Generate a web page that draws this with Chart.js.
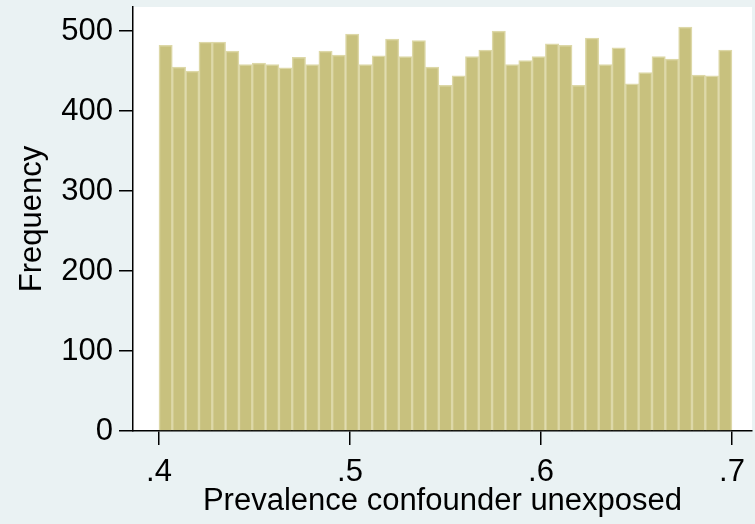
<!DOCTYPE html>
<html>
<head>
<meta charset="utf-8">
<script src="https://cdn.jsdelivr.net/npm/chart.js@4/dist/chart.umd.min.js"></script>
<style>
  html, body { margin: 0; padding: 0; background: #EAF2F3; }
  #wrap { width: 755px; height: 524px; }
</style>
</head>
<body>
<div id="wrap"><canvas id="c" width="755" height="524"></canvas></div>
<script>
// Histogram bins: 43 equal bins from .4 to .7
const binStart = 0.4;
const binEnd = 0.7;
const frequencies = [
  482, 455, 450, 486, 486, 475, 458, 460, 458, 454,
  467, 458, 475, 470, 496, 458, 469, 490, 468, 488,
  455, 432, 444, 468, 476, 500, 458, 463, 468, 484,
  482, 432, 491, 458, 479, 434, 448, 468, 465, 505,
  445, 444, 476
];
const xTicks = [0.4, 0.5, 0.6, 0.7];
const xTickLabels = ['.4', '.5', '.6', '.7'];
const yTicks = [0, 100, 200, 300, 400, 500];
const xTitle = 'Prevalence confounder unexposed';
const yTitle = 'Frequency';

const binWidth = (binEnd - binStart) / frequencies.length;
const points = frequencies.map((v, i) => ({ x: binStart + (i + 0.5) * binWidth, y: v }));

const FONT = "'Liberation Sans', Arial, Helvetica, sans-serif";

const bgPlugin = {
  id: 'bg',
  beforeDraw(chart) {
    const { ctx, chartArea: a } = chart;
    ctx.save();
    ctx.fillStyle = '#EAF2F3';
    ctx.fillRect(0, 0, chart.width, chart.height);
    ctx.fillStyle = '#FFFFFF';
    ctx.fillRect(a.left, a.top, a.right - a.left, a.bottom - a.top);
    ctx.restore();
  }
};

new Chart(document.getElementById('c'), {
  type: 'bar',
  data: {
    datasets: [{
      data: points,
      backgroundColor: '#C8C17E',
      borderColor: '#DDD8A8',
      borderWidth: 1.5,
      borderSkipped: 'bottom',
      barPercentage: 1,
      categoryPercentage: 1
    }]
  },
  options: {
    responsive: false,
    animation: false,
    devicePixelRatio: 1,
    layout: { padding: { top: 7, right: 3, left: 0, bottom: 0 } },
    plugins: { legend: { display: false }, tooltip: { enabled: false } },
    scales: {
      x: {
        type: 'linear',
        min: 0.3864,
        max: 0.7105,
        offset: false,
        afterBuildTicks(s) { s.ticks = xTicks.map(v => ({ value: v })); },
        afterFit(s) { s.height = 93; s.paddingLeft = 0; s.paddingRight = 0; },
        ticks: {
          color: '#000',
          font: { family: FONT, size: 31 },
          padding: 9,
          maxRotation: 0,
          autoSkip: false,
          callback(v) { const i = xTicks.indexOf(v); return i >= 0 ? xTickLabels[i] : ''; }
        },
        grid: { offset: false, drawOnChartArea: false, drawTicks: true, tickLength: 14, color: '#000', lineWidth: 1.5 },
        border: { display: true, color: '#000', width: 1.5 },
        title: { display: true, text: xTitle, color: '#000', font: { family: FONT, size: 31 }, padding: { top: 0, bottom: 4 } }
      },
      y: {
        min: 0,
        max: 530,
        afterBuildTicks(s) { s.ticks = yTicks.map(v => ({ value: v })); },
        afterFit(s) { s.width = 133; s.paddingTop = 0; s.paddingBottom = 0; },
        ticks: { color: '#000', font: { family: FONT, size: 31 }, padding: 6 },
        grid: { drawOnChartArea: false, drawTicks: true, tickLength: 14, color: '#000', lineWidth: 1.5 },
        border: { display: true, color: '#000', width: 1.5 },
        title: { display: true, text: yTitle, color: '#000', font: { family: FONT, size: 31 }, padding: { top: 14, bottom: 0 } }
      }
    }
  },
  plugins: [bgPlugin]
});
</script>
</body>
</html>
